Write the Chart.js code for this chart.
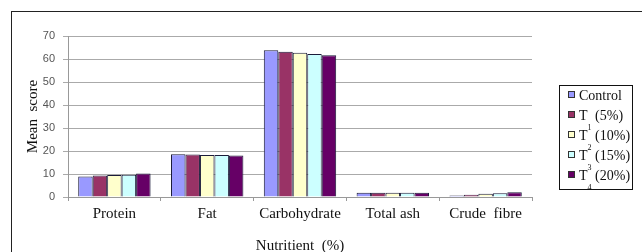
<!DOCTYPE html>
<html>
<head>
<meta charset="utf-8">
<script src="https://cdn.jsdelivr.net/npm/chart.js@4.4.0/dist/chart.umd.min.js"></script>
<style>
  html, body { margin: 0; padding: 0; background: #fff; overflow: hidden; }
  #wrap { position: relative; width: 642px; height: 252px; overflow: hidden; }
  #frame { position: absolute; left: 11px; top: 11px; width: 640px; height: 260px; border: 1.5px solid #222; box-sizing: border-box; }
  #chart1 { position: absolute; left: 0; top: 0; }
  #legend { position: absolute; left: 559px; top: 85px; width: 74px; height: 105px; border: 1.5px solid #111; box-sizing: border-box;
            font-family: "Liberation Serif", "Times New Roman", serif; font-size: 14px; color: #111; }
  .row { position: absolute; left: 8px; height: 20px; line-height: 20px; white-space: nowrap; }
  .mk { display: inline-block; width: 5px; height: 5px; border: 1px solid #333; margin-right: 4px; vertical-align: 2px; }
  .sub { position: relative; top: 10px; font-size: 8px; margin: 0; }
</style>
</head>
<body>
<div id="wrap">
  <div id="frame"></div>
  <canvas id="chart1" width="642" height="252"></canvas>
  <div id="legend"></div>
</div>
<script>
let nutrients = ['Protein', 'Fat', 'Carbohydrate', 'Total ash', 'Crude  fibre'];
let control = [8.9, 18.6, 63.8, 1.8, 0.6];
let t1 = [9.4, 18.5, 63.2, 1.8, 1.0];
let t2 = [9.6, 18.3, 62.7, 1.8, 1.4];
let t3 = [9.7, 18.3, 62.2, 1.8, 1.6];
let t4 = [10.2, 18.0, 61.6, 1.8, 2.1];
let seriesNames = ['Control', 'T', 'T', 'T', 'T'];
let seriesPct = ['', '(5%)', '(10%)', '(15%)', '(20%)'];
let seriesSub = ['', '1', '2', '3', '4'];
let colors = ['#9999ff', '#993366', '#ffffcc', '#ccffff', '#660066'];
let yTicks = [0, 10, 20, 30, 40, 50, 60, 70];

const serif = '"Liberation Serif", "Times New Roman", serif';

// legend drawn as html so the odd subscripts can sit between rows
const legendNode = document.getElementById('legend');
let rows = '';
for (let i = 0; i < seriesNames.length; i++) {
  let txt = seriesNames[i];
  if (seriesSub[i]) txt += `<span class="sub">${seriesSub[i]}</span> ${seriesPct[i]}`;
  rows += `<div class="row" style="top:${i * 20}px"><span class="mk" style="background:${colors[i]}"></span>${txt}</div>`;
}
legendNode.innerHTML = rows;

const allSeries = [control, t1, t2, t3, t4];
const datasets = allSeries.map((d, i) => ({
  label: seriesNames[i] + seriesSub[i] + ' ' + seriesPct[i],
  data: d,
  backgroundColor: colors[i],
  borderColor: '#1c1c3a',
  borderWidth: 1,
  barPercentage: 1,
  categoryPercentage: 0.78
}));

new Chart(document.getElementById('chart1'), {
  type: 'bar',
  data: { labels: nutrients, datasets: datasets },
  options: {
    responsive: false,
    animation: false,
    layout: { padding: { left: 18, top: 36, right: 110, bottom: 0 } },
    plugins: { legend: { display: false }, tooltip: { enabled: false } },
    scales: {
      x: {
        grid: { drawOnChartArea: false, drawTicks: true, tickLength: 4, color: '#999' },
        border: { color: '#999' },
        ticks: { color: '#111', font: { family: serif, size: 15 }, padding: 4, maxRotation: 0 },
        title: { display: true, text: 'Nutritient  (%)', color: '#111', font: { family: serif, size: 15 }, padding: { top: 0, bottom: -3 } },
        afterFit: s => { s.height = 252 - 197; }
      },
      y: {
        min: 0, max: 70,
        afterBuildTicks: s => { s.ticks = yTicks.map(v => ({ value: v })); },
        grid: { color: '#aaa', tickLength: 5 },
        border: { color: '#999' },
        ticks: { color: '#555', font: { family: '"Liberation Sans", Arial, sans-serif', size: 11 }, padding: 8 },
        title: { display: true, text: 'Mean  score', color: '#111', font: { family: serif, size: 15 }, padding: { top: 6, bottom: 0 } },
        afterFit: s => { s.width = 68 - 18; }
      }
    }
  }
});
</script>
</body>
</html>
